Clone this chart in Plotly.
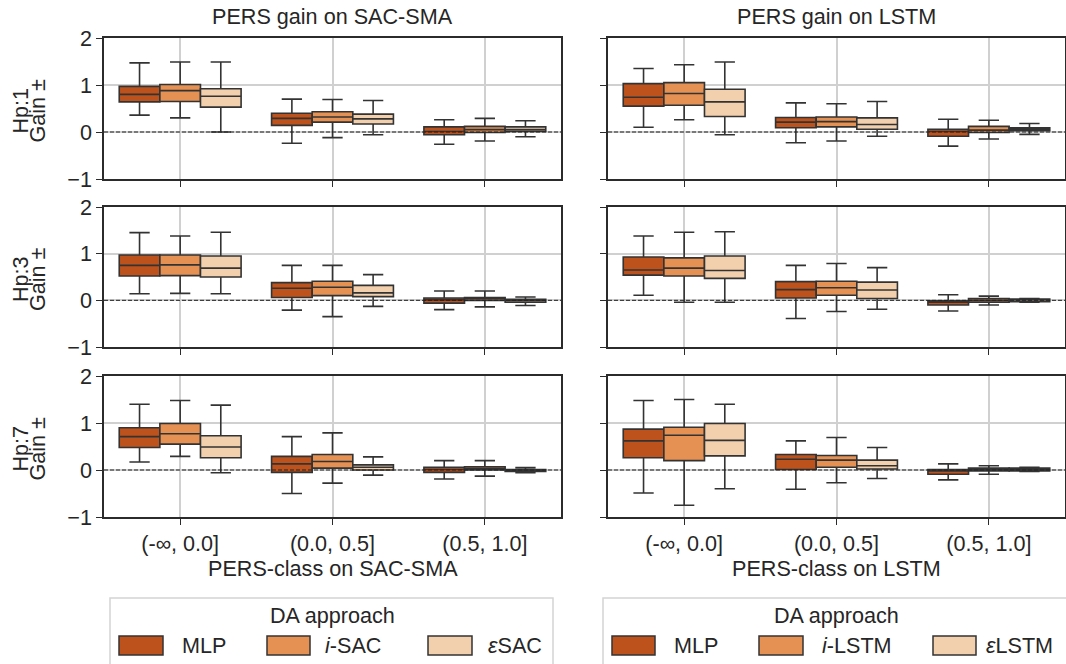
import plotly.graph_objects as go
from plotly.subplots import make_subplots

W, H = 1066, 664

# ---------------- data (lower whisker, Q1, median, Q3, upper whisker) ----------------
categories = ["(-∞, 0.0]", "(0.0, 0.5]", "(0.5, 1.0]"]
horizons = ["Hp:1", "Hp:3", "Hp:7"]
models = ["SAC-SMA", "LSTM"]
legend_labels = {
    "SAC-SMA": ["MLP", "<i>i</i>-SAC", "<i>ε</i>SAC"],
    "LSTM": ["MLP", "<i>i</i>-LSTM", "<i>ε</i>LSTM"],
}
colors = ["#be521c", "#e59154", "#f2d0ae"]

# SAC-SMA, Hp:1
sac_hp1_mlp = [(0.36, 0.64, 0.80, 0.97, 1.47), (-0.24, 0.14, 0.29, 0.40, 0.70), (-0.26, -0.06, 0.01, 0.11, 0.26)]
sac_hp1_i   = [(0.30, 0.65, 0.88, 1.01, 1.49), (-0.12, 0.21, 0.32, 0.43, 0.69), (-0.19, -0.01, 0.05, 0.12, 0.29)]
sac_hp1_eps = [(0.00, 0.53, 0.76, 0.92, 1.49), (-0.06, 0.17, 0.28, 0.38, 0.67), (-0.10, 0.01, 0.05, 0.11, 0.24)]
# LSTM, Hp:1
lstm_hp1_mlp = [(0.10, 0.55, 0.74, 1.03, 1.35), (-0.23, 0.09, 0.21, 0.31, 0.62), (-0.30, -0.09, 0.01, 0.06, 0.27)]
lstm_hp1_i   = [(0.26, 0.57, 0.82, 1.05, 1.43), (-0.19, 0.11, 0.22, 0.32, 0.60), (-0.15, -0.01, 0.04, 0.12, 0.25)]
lstm_hp1_eps = [(-0.06, 0.33, 0.64, 0.91, 1.49), (-0.09, 0.06, 0.16, 0.30, 0.65), (-0.05, 0.03, 0.06, 0.09, 0.18)]
# SAC-SMA, Hp:3
sac_hp3_mlp = [(0.14, 0.52, 0.75, 0.97, 1.45), (-0.21, 0.06, 0.26, 0.38, 0.75), (-0.20, -0.06, 0.01, 0.05, 0.20)]
sac_hp3_i   = [(0.15, 0.53, 0.76, 0.97, 1.38), (-0.35, 0.10, 0.28, 0.41, 0.75), (-0.14, 0.00, 0.04, 0.06, 0.20)]
sac_hp3_eps = [(0.14, 0.50, 0.69, 0.95, 1.46), (-0.13, 0.08, 0.16, 0.32, 0.55), (-0.11, -0.04, 0.00, 0.02, 0.07)]
# LSTM, Hp:3
lstm_hp3_mlp = [(0.11, 0.54, 0.65, 0.93, 1.38), (-0.39, 0.05, 0.23, 0.40, 0.75), (-0.23, -0.10, -0.04, -0.01, 0.12)]
lstm_hp3_i   = [(-0.04, 0.52, 0.69, 0.91, 1.46), (-0.24, 0.11, 0.27, 0.41, 0.79), (-0.10, -0.04, 0.00, 0.04, 0.09)]
lstm_hp3_eps = [(-0.04, 0.47, 0.64, 0.95, 1.47), (-0.19, 0.04, 0.22, 0.39, 0.70), (-0.04, -0.03, 0.01, 0.03, 0.04)]
# SAC-SMA, Hp:7
sac_hp7_mlp = [(0.17, 0.48, 0.71, 0.90, 1.40), (-0.50, -0.05, 0.13, 0.29, 0.71), (-0.19, -0.05, 0.01, 0.06, 0.20)]
sac_hp7_i   = [(0.29, 0.55, 0.77, 0.99, 1.48), (-0.28, 0.04, 0.18, 0.33, 0.79), (-0.13, 0.00, 0.03, 0.07, 0.20)]
sac_hp7_eps = [(-0.06, 0.26, 0.49, 0.73, 1.38), (-0.11, 0.00, 0.06, 0.11, 0.28), (-0.06, -0.03, 0.00, 0.01, 0.05)]
# LSTM, Hp:7
lstm_hp7_mlp = [(-0.49, 0.26, 0.62, 0.87, 1.48), (-0.41, 0.01, 0.23, 0.33, 0.62), (-0.21, -0.09, -0.02, 0.01, 0.13)]
lstm_hp7_i   = [(-0.75, 0.20, 0.74, 0.91, 1.50), (-0.27, 0.06, 0.21, 0.31, 0.69), (-0.09, -0.02, 0.01, 0.04, 0.09)]
lstm_hp7_eps = [(-0.40, 0.30, 0.63, 0.99, 1.40), (-0.18, 0.02, 0.09, 0.21, 0.48), (-0.03, -0.02, 0.01, 0.04, 0.06)]

panels = {
    ("Hp:1", "SAC-SMA"): [sac_hp1_mlp, sac_hp1_i, sac_hp1_eps],
    ("Hp:1", "LSTM"): [lstm_hp1_mlp, lstm_hp1_i, lstm_hp1_eps],
    ("Hp:3", "SAC-SMA"): [sac_hp3_mlp, sac_hp3_i, sac_hp3_eps],
    ("Hp:3", "LSTM"): [lstm_hp3_mlp, lstm_hp3_i, lstm_hp3_eps],
    ("Hp:7", "SAC-SMA"): [sac_hp7_mlp, sac_hp7_i, sac_hp7_eps],
    ("Hp:7", "LSTM"): [lstm_hp7_mlp, lstm_hp7_i, lstm_hp7_eps],
}

y_ticks = [-1, 0, 1, 2]
y_ticktext = ["−1", "0", "1", "2"]

# ---------------- styling ----------------
FONT = "Liberation Sans, Arial, Helvetica, sans-serif"
FS = 21.6
TXT = "#262626"
EDGE = "#2b2b2b"
BOXLINE = "#333333"
GRID = "#d0d0d0"
BOX_W = 0.8 / 3


def px_x(p):
    return p / W


def px_y(p):
    return 1 - p / H


col_px = [(104, 561), (608, 1065)]
row_px = [(38, 179), (207, 347), (376, 517)]

fig = make_subplots(rows=3, cols=2)

for r, hp in enumerate(horizons):
    for c, model in enumerate(models):
        series = panels[(hp, model)]
        for h, stats in enumerate(series):
            offs = (h - 1) * BOX_W
            fig.add_trace(
                go.Box(
                    x=[i + offs for i in range(len(categories))],
                    lowerfence=[s[0] for s in stats],
                    q1=[s[1] for s in stats],
                    median=[s[2] for s in stats],
                    q3=[s[3] for s in stats],
                    upperfence=[s[4] for s in stats],
                    width=BOX_W,
                    whiskerwidth=0.5,
                    fillcolor=colors[h],
                    line=dict(color=BOXLINE, width=1.6),
                    boxpoints=False,
                    showlegend=False,
                    name=legend_labels[model][h],
                ),
                row=r + 1,
                col=c + 1,
            )
        idx = r * 2 + c + 1
        xa = "xaxis" if idx == 1 else f"xaxis{idx}"
        ya = "yaxis" if idx == 1 else f"yaxis{idx}"
        x0, x1 = col_px[c]
        yt, yb = row_px[r]
        common = dict(
            tickmode="array",
            ticks="outside",
            ticklen=6,
            tickwidth=1.25,
            tickcolor=EDGE,
            showline=True,
            mirror=True,
            linecolor=EDGE,
            linewidth=1.5,
            showgrid=True,
            gridcolor=GRID,
            gridwidth=1.5,
            zeroline=False,
            tickfont=dict(family=FONT, size=FS, color=TXT),
        )
        fig.layout[xa].update(
            domain=[px_x(x0), px_x(x1)],
            range=[-0.5, 2.5],
            tickvals=list(range(len(categories))),
            ticktext=categories,
            showticklabels=(r == 2),
            **common,
        )
        fig.layout[ya].update(
            domain=[px_y(yb), px_y(yt)],
            range=[-1, 2],
            tickvals=y_ticks,
            ticktext=y_ticktext,
            showticklabels=(c == 0),
            **common,
        )
        xref = "x" if idx == 1 else f"x{idx}"
        yref = "y" if idx == 1 else f"y{idx}"
        fig.add_shape(
            type="line",
            xref=f"{xref} domain",
            yref=yref,
            x0=0, x1=1, y0=0, y1=0,
            line=dict(color="#222222", width=1, dash="4px,2px"),
            layer="above",
        )

annotations = []
txtfont = dict(family=FONT, size=FS, color=TXT)
# column titles and x titles
for c, model in enumerate(models):
    cx = (col_px[c][0] + col_px[c][1]) / 2
    annotations.append(dict(text=f"PERS gain on {model}", x=px_x(cx), y=px_y(17), xref="paper", yref="paper",
                            showarrow=False, font=txtfont, xanchor="center", yanchor="middle"))
    annotations.append(dict(text=f"PERS-class on {model}", x=px_x(cx), y=px_y(568), xref="paper", yref="paper",
                            showarrow=False, font=txtfont, xanchor="center", yanchor="middle"))
# row titles (two lines, rotated)
for r, hp in enumerate(horizons):
    cy = (row_px[r][0] + row_px[r][1]) / 2 + 2
    annotations.append(dict(text=hp, x=px_x(20), y=px_y(cy), xref="paper", yref="paper",
                            showarrow=False, textangle=-90, font=txtfont, xanchor="center", yanchor="middle"))
    annotations.append(dict(text="Gain ±", x=px_x(37), y=px_y(cy), xref="paper", yref="paper",
                            showarrow=False, textangle=-90, font=txtfont, xanchor="center", yanchor="middle"))

# legends (drawn boxes + text)
legend_frames = [(110, 553), (603, 1075)]
legend_items = [
    [(119, 163, 180), (267, 310, 323), (428, 472, 486)],
    [(612, 655, 672), (759, 803, 820), (933, 976, 984)],
]
shapes = []
for c, model in enumerate(models):
    lx0, lx1 = legend_frames[c]
    shapes.append(dict(type="rect", xref="paper", yref="paper", x0=px_x(lx0), x1=px_x(lx1),
                       y0=px_y(700), y1=px_y(598),
                       line=dict(color="#d4d4d4", width=1.5), fillcolor="white", layer="below"))
    cx = (col_px[c][0] + col_px[c][1]) / 2
    annotations.append(dict(text="DA approach", x=px_x(cx), y=px_y(615), xref="paper", yref="paper",
                            showarrow=False, font=txtfont, xanchor="center", yanchor="middle"))
    for h, (p0, p1, tx) in enumerate(legend_items[c]):
        shapes.append(dict(type="rect", xref="paper", yref="paper",
                           x0=px_x(p0), x1=px_x(p1), y0=px_y(655), y1=px_y(636),
                           line=dict(color=BOXLINE, width=1.5), fillcolor=colors[h]))
        annotations.append(dict(text=legend_labels[model][h], x=px_x(tx), y=px_y(645), xref="paper", yref="paper",
                                showarrow=False, font=txtfont, xanchor="left", yanchor="middle"))

for s in shapes:
    fig.add_shape(**s)

fig.update_layout(
    width=W,
    height=H,
    autosize=False,
    margin=dict(l=0, r=0, t=0, b=0, autoexpand=False),
    paper_bgcolor="white",
    plot_bgcolor="white",
    boxmode="overlay",
    showlegend=False,
    annotations=annotations,
    font=txtfont,
)

page_fix = (
    "document.documentElement.style.margin='0';"
    "document.body.style.margin='0';"
    "document.body.style.overflow='hidden';"
    "var gd=document.getElementById('{plot_id}');"
    "gd.style.position='fixed';gd.style.left='0px';gd.style.top='0px';"
)

fig.write_html("out.html", config={"displayModeBar": False, "responsive": False}, post_script=page_fix)
